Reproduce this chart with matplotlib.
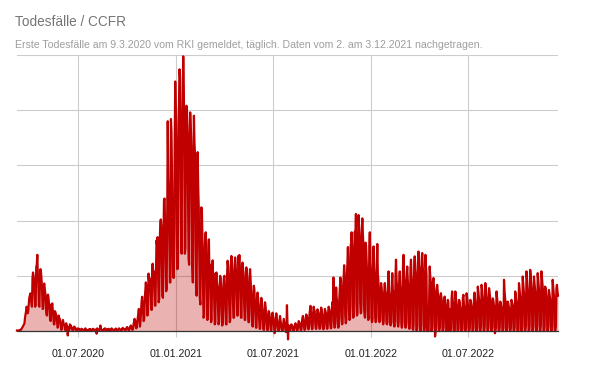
import matplotlib

matplotlib.use("Agg")
import matplotlib.pyplot as plt
import numpy as np
import pandas as pd

TITLE = "Todesfälle / CCFR"
SUBTITLE = "Erste Todesfälle am 9.3.2020 vom RKI gemeldet, täglich. Daten vom 2. am 3.12.2021 nachgetragen."

START = "2020-03-09"
TICK_DATES = ["2020-07-01", "2021-01-01", "2021-07-01", "2022-01-01", "2022-07-01"]
TICK_LABELS = ["01.07.2020", "01.01.2021", "01.07.2021", "01.01.2022", "01.07.2022"]

# daily reported deaths, one row per week (Mon..Sun)
deaths = [
    2, 1, 2, 3, 2, 3, 5,
    4, 8, 12, 16, 20, 25, 30,
    35, 60, 75, 90, 110, 100, 80,
    90, 120, 150, 160, 170, 150, 130,
    110, 240, 265, 250, 225, 160, 110,
    120, 290, 300, 345, 260, 220, 115,
    110, 250, 280, 265, 230, 180, 100,
    100, 200, 215, 190, 170, 120, 80,
    70, 160, 165, 150, 120, 90, 50,
    45, 120, 110, 125, 95, 70, 30,
    30, 90, 85, 75, 60, 40, 15,
    20, 70, 60, 55, 40, 30, 5,
    10, 40, 50, 35, 30, 25, 5,
    5, 35, 25, 20, -20, 15, 5,
    5, 30, 20, 25, 15, 10, 2,
    3, 15, 20, 12, 15, 8, 1,
    2, 10, 12, 8, 10, 5, 1,
    2, 8, 10, 9, 6, 4, 1,
    1, 6, 12, 7, 5, 3, 1,
    2, 5, 8, 6, 9, 4, 1,
    1, 7, 10, 9, 6, 5, 2,
    1, 8, -12, 12, 7, 4, 1,
    2, 9, 25, 8, 7, 5, 1,
    2, 6, 10, 8, 12, 5, 1,
    1, 8, 6, 10, 9, 4, 2,
    1, 9, 12, 8, 7, 5, 1,
    1, 6, 10, 11, 8, 4, 2,
    2, 9, 12, 8, 7, 6, 2,
    2, 12, 14, 10, 9, 8, 3,
    3, 10, 14, 18, 12, 8, 2,
    4, 16, 20, 25, 15, 10, 5,
    8, 30, 40, 55, 45, 25, 12,
    15, 45, 60, 80, 100, 50, 20,
    40, 90, 130, 155, 120, 80, 45,
    55, 150, 180, 220, 200, 130, 70,
    85, 260, 230, 240, 215, 170, 100,
    95, 300, 305, 250, 270, 180, 115,
    115, 260, 410, 390, 425, 260, 130,
    145, 390, 490, 505, 480, 300, 160,
    150, 420, 590, 600, 500, 320, 180,
    190, 500, 950, 700, 600, 450, 220,
    220, 960, 900, 700, 400, 250, 240,
    350, 850, 1130, 1000, 800, 450, 280,
    300, 950, 1020, 1185, 1150, 700, 420,
    350, 890, 1060, 1244, 1110, 850, 350,
    370, 1000, 1020, 1000, 860, 600, 330,
    300, 900, 990, 940, 840, 550, 290,
    220, 780, 975, 850, 800, 400, 200,
    160, 600, 810, 650, 560, 350, 150,
    120, 400, 560, 530, 400, 200, 60,
    70, 360, 420, 447, 390, 180, 50,
    60, 300, 415, 260, 300, 160, 40,
    50, 250, 320, 230, 260, 130, 30,
    40, 230, 265, 220, 200, 110, 30,
    40, 190, 250, 240, 180, 90, 25,
    45, 200, 240, 250, 180, 90, 30,
    30, 250, 318, 290, 230, 120, 40,
    50, 300, 340, 320, 250, 130, 60,
    60, 280, 333, 300, 260, 150, 70,
    70, 340, 300, 344, 270, 140, 60,
    60, 300, 310, 280, 220, 120, 50,
    50, 260, 288, 270, 200, 100, 40,
    40, 240, 280, 230, 180, 80, 30,
    20, 150, 205, 190, 130, 60, 15,
    15, 140, 174, 150, 110, 50, 10,
    10, 110, 150, 136, 90, 40, 8,
    5, 90, 130, 110, 80, 30, 5,
    4, 70, 90, 80, 60, 20, 3,
    5, 60, 83, 70, 50, 20, -10,
    3, 50, 80, 60, 40, 15, 2,
    2, 40, 68, 50, 30, 10, 1,
    1, 30, 55, 40, 25, 10, -5,
    2, 117, 30, -38, 25, 8, 1,
    2, 25, 30, 28, 20, 8, 1,
    3, 20, 30, 35, 25, 10, 2,
    4, 30, 45, 40, 30, 12, 3,
    5, 40, 60, 68, 45, 15, 5,
    8, 50, 75, 70, 55, 20, 8,
    10, 70, 95, 114, 80, 25, 8,
    12, 80, 110, 95, 90, 30, 10,
    10, 60, 98, 90, 80, 25, 10,
    12, 75, 106, 95, 70, 20, 8,
    10, 70, 100, 90, 80, 25, 10,
    12, 80, 110, 100, 85, 30, 12,
    15, 100, 130, 120, 242, 40, 15,
    20, 120, 197, 150, 130, 40, 15,
    25, 150, 200, 242, 180, 60, 30,
    35, 200, 240, 298, 230, 70, 35,
    50, 260, 300, 380, 280, 90, 50,
    60, 380, 400, 447, 350, 110, 60,
    70, 390, 450, 380, 530, 120, 70,
    80, 390, 525, 460, 420, 130, 80,
    85, 460, 510, 440, 390, 120, 80,
    60, 400, 386, 320, 250, 90, 50,
    60, 380, 447, 310, 270, 60, 40,
    50, 300, 383, 290, 250, 60, 40,
    50, 300, 394, 260, 230, 60, 40,
    50, 180, 217, 200, 160, 50, 30,
    45, 180, 217, 180, 170, 40, 30,
    40, 200, 270, 180, 160, 30, 25,
    40, 200, 262, 190, 170, 35, 20,
    45, 250, 323, 230, 200, 40, 20,
    40, 230, 270, 210, 180, 30, 15,
    40, 290, 345, 250, 220, 30, 15,
    35, 260, 292, 230, 200, 25, 10,
    30, 280, 323, 250, 220, 10, 5,
    30, 300, 338, 280, 250, 5, 0,
    25, 310, 360, 300, 280, 0, 0,
    30, 320, 353, 290, 260, 0, 0,
    25, 345, 290, 260, 0, 0, 0,
    0, 150, 292, 250, 220, 0, 0,
    20, 220, 240, 200, 170, -25, 0,
    20, 190, 209, 180, 150, 0, 0,
    15, 160, 171, 150, 130, 0, 0,
    15, 140, 156, 130, 110, 0, 0,
    10, 141, 130, 0, 100, 0, 0,
    10, 150, 179, 140, 120, 0, 0,
    0, 179, 150, 130, 110, 0, 0,
    10, 141, 130, 110, 100, 0, 0,
    10, 150, 164, 120, 100, 0, 0,
    12, 171, 150, 130, 110, 0, 0,
    12, 141, 135, 120, 100, 0, 0,
    15, 164, 174, 140, 120, 0, 0,
    15, 201, 180, 150, 130, 0, 0,
    20, 209, 190, 160, 140, 0, 0,
    20, 217, 190, 160, 140, 0, 0,
    20, 194, 170, 150, 130, 0, 0,
    15, 148, 140, 120, 110, -10, 0,
    15, 179, 150, 130, 110, 0, 0,
    15, 133, 125, 110, 100, 0, 0,
    15, 232, 180, 150, 130, 0, 0,
    15, 133, 125, 110, 100, 0, 0,
    15, 141, 130, 120, 110, 0, 0,
    15, 179, 160, 140, 120, 0, 0,
    0, 217, 190, 160, 140, 0, 0,
    20, 247, 210, 180, 160, 0, 0,
    25, 270, 240, 200, 170, 0, 0,
    25, 277, 240, 210, 180, 0, 0,
    25, 247, 220, 190, 160, 0, 0,
    25, 262, 230, 200, 170, 0, 0,
    25, 270, 240, 210, 180, 0, 0,
    20, 201, 190, 170, 150, 0, 0,
    20, 186, 170, 150, 130, 0, 0,
    20, 232, 200, 170, 150, 0, 0,
    20, 190, 209, 180, 160,
]

RED = "#c00000"
GRID = "#cccccc"

plt.rcParams.update({"font.family": ["Liberation Sans", "DejaVu Sans"]})

dates = pd.date_range(START, periods=len(deaths), freq="D")
y = np.array(deaths, dtype=float)

fig = plt.figure(figsize=(6.0, 3.71), dpi=100)
ax = fig.add_axes([0.0283, 0.1078, 0.9017, 0.744])

ax.fill_between(dates, 0, y, color=RED, alpha=0.3, linewidth=0, clip_on=False, zorder=2)
ax.plot(dates, y, color=RED, linewidth=1.6, clip_on=False, zorder=3)

ax.set_xlim(dates[0], dates[-1])
ax.set_ylim(0, 1250)
ax.set_yticks([250, 500, 750, 1000, 1250])
ax.set_yticklabels([])
ax.tick_params(axis="y", length=0)
ax.set_xticks(pd.to_datetime(TICK_DATES))
ax.set_xticklabels(TICK_LABELS, fontsize=7.7, color="#222222")
ax.tick_params(axis="x", length=4, color=GRID, pad=9)
ax.grid(True, color=GRID, linewidth=0.8, zorder=0)
ax.set_axisbelow(True)
for s in ("top", "right", "left"):
    ax.spines[s].set_visible(False)
ax.spines["bottom"].set_color("#333333")
ax.spines["bottom"].set_linewidth(0.9)
ax.spines["bottom"].set_zorder(4)

fig.text(15 / 600, 1 - 22 / 371, TITLE, fontsize=9.8, color="#757575", va="center", ha="left")
fig.text(15 / 600, 1 - 45 / 371, SUBTITLE, fontsize=7.6, color="#9e9e9e", va="center", ha="left")

fig.savefig("out.png", dpi=100)
plt.close(fig)
